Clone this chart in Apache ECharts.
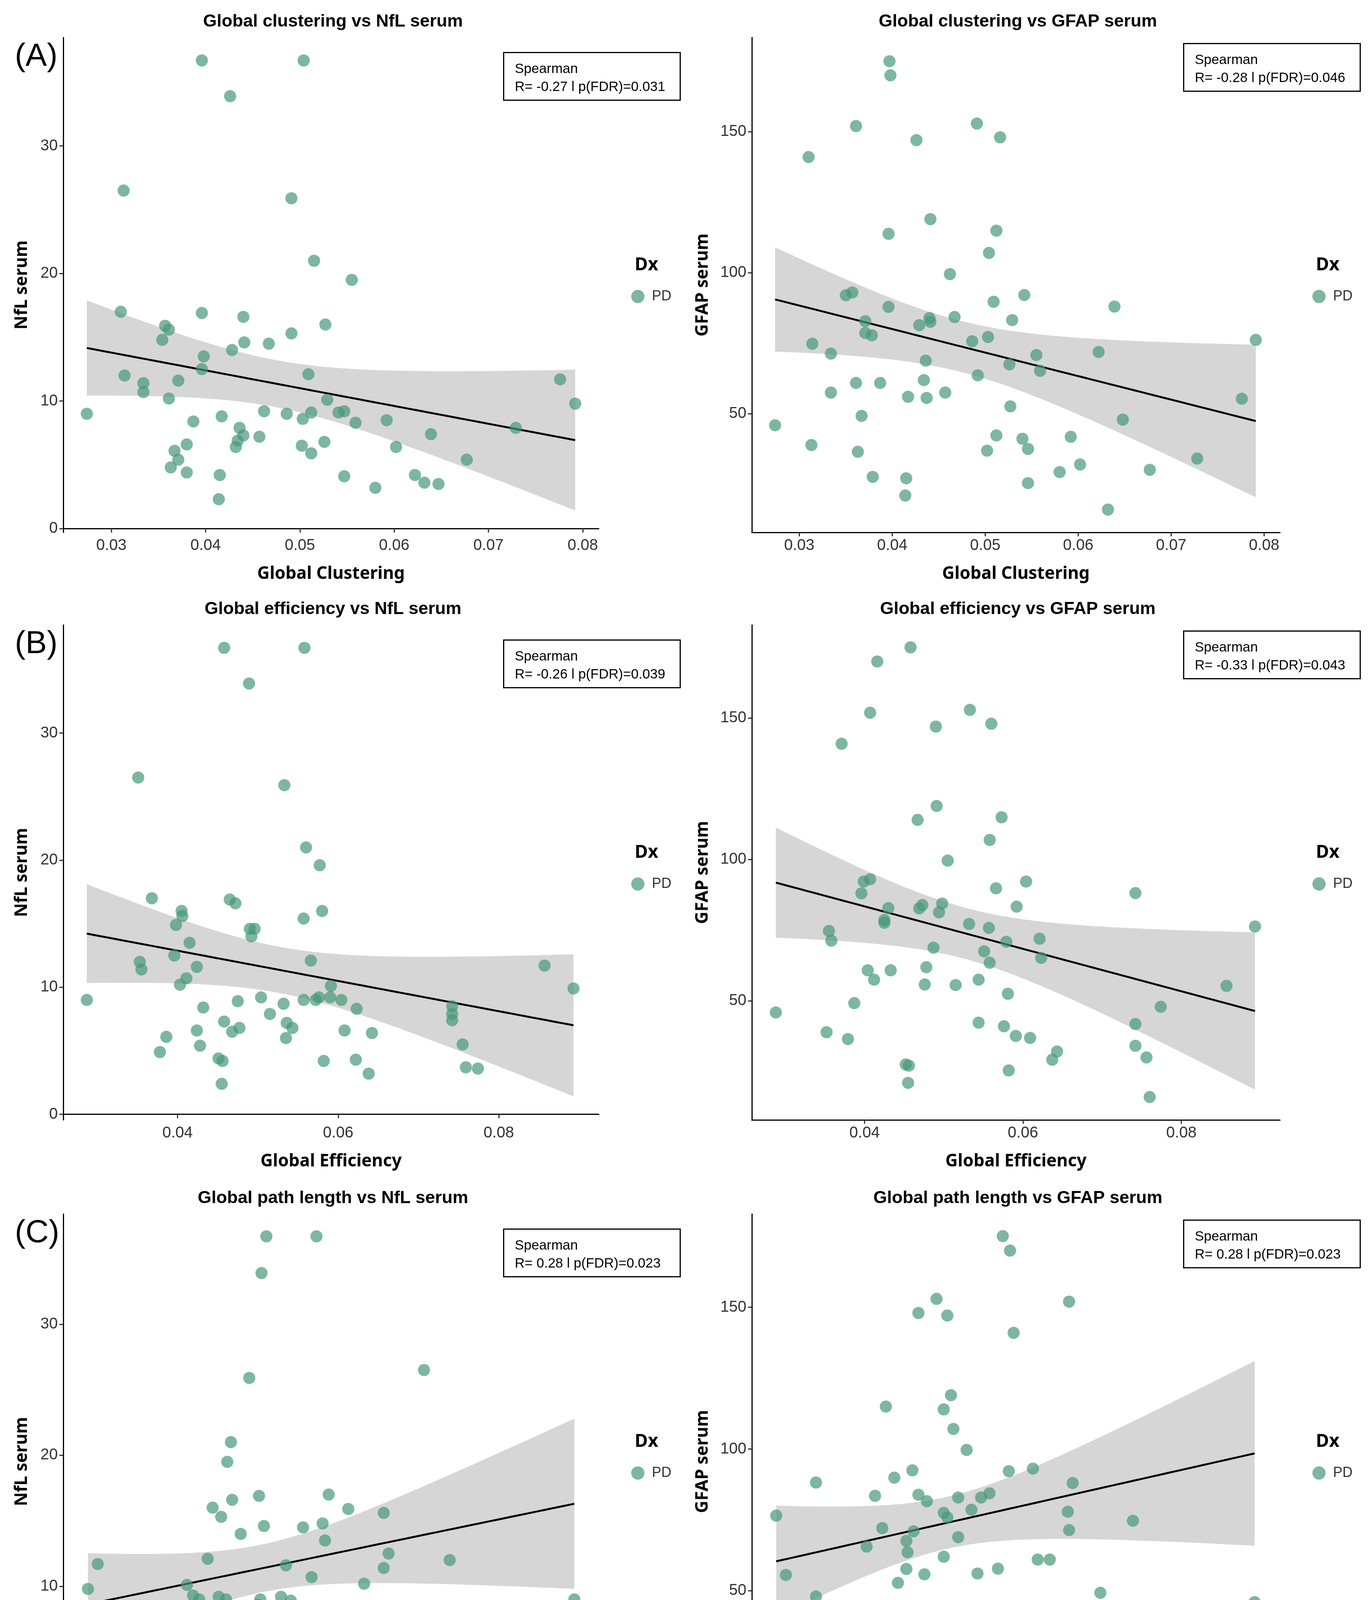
<!DOCTYPE html>
<html><head><meta charset="utf-8">
<script src="https://cdn.jsdelivr.net/npm/echarts@6/dist/echarts.min.js"></script>
<style>html,body{margin:0;padding:0;background:#fff}#c{width:3505px;height:6007px}</style>
</head><body><div id="c"></div>
<script>
// ---- data: [metric, serum] pairs ----
const clusteringNfL = [[0.0396,36.7],[0.0504,36.7],[0.0426,33.9],[0.0313,26.5],[0.0491,25.9],[0.0515,21.0],[0.0555,19.5],[0.0310,17.0],[0.0396,16.9],[0.0440,16.6],[0.0527,16.0],[0.0357,15.9],[0.0361,15.6],[0.0491,15.3],[0.0354,14.8],[0.0441,14.6],[0.0467,14.5],[0.0428,14.0],[0.0398,13.5],[0.0396,12.5],[0.0509,12.1],[0.0314,12.0],[0.0371,11.6],[0.0334,11.4],[0.0334,10.7],[0.0361,10.2],[0.0529,10.1],[0.0776,11.7],[0.0792,9.8],[0.0274,9.0],[0.0462,9.2],[0.0486,9.0],[0.0512,9.1],[0.0541,9.1],[0.0547,9.2],[0.0417,8.8],[0.0503,8.6],[0.0592,8.5],[0.0387,8.4],[0.0559,8.3],[0.0436,7.9],[0.0729,7.9],[0.0440,7.3],[0.0457,7.2],[0.0639,7.4],[0.0434,6.9],[0.0526,6.8],[0.0380,6.6],[0.0502,6.5],[0.0432,6.4],[0.0602,6.4],[0.0367,6.1],[0.0512,5.9],[0.0371,5.4],[0.0677,5.4],[0.0363,4.8],[0.0380,4.4],[0.0415,4.2],[0.0547,4.1],[0.0622,4.2],[0.0632,3.6],[0.0647,3.5],[0.0580,3.2],[0.0414,2.3]];
const clusteringGFAP = [[0.0397,175.0],[0.0398,170.0],[0.0361,152.0],[0.0491,152.9],[0.0426,147.0],[0.0516,148.0],[0.0310,141.0],[0.0441,119.0],[0.0396,113.8],[0.0512,114.9],[0.0504,107.0],[0.0462,99.5],[0.0350,92.0],[0.0357,93.0],[0.0542,92.1],[0.0509,89.7],[0.0396,87.9],[0.0639,88.0],[0.0467,84.3],[0.0440,83.9],[0.0441,82.6],[0.0529,83.2],[0.0371,82.8],[0.0429,81.4],[0.0371,78.6],[0.0378,77.8],[0.0503,77.2],[0.0486,75.7],[0.0791,76.2],[0.0314,74.8],[0.0334,71.3],[0.0622,71.9],[0.0555,70.8],[0.0436,68.8],[0.0526,67.5],[0.0559,65.2],[0.0492,63.6],[0.0361,60.9],[0.0387,60.9],[0.0434,61.9],[0.0334,57.5],[0.0457,57.5],[0.0417,56.0],[0.0437,55.6],[0.0776,55.3],[0.0527,52.6],[0.0367,49.2],[0.0648,47.9],[0.0274,45.9],[0.0512,42.3],[0.0592,41.8],[0.0540,41.1],[0.0313,38.9],[0.0546,37.5],[0.0502,36.9],[0.0363,36.5],[0.0728,34.1],[0.0602,32.0],[0.0677,30.1],[0.0580,29.3],[0.0379,27.6],[0.0415,27.1],[0.0546,25.4],[0.0414,21.0],[0.0632,16.0]];
const efficiencyNfL = [[0.0458,36.7],[0.0558,36.7],[0.0489,33.9],[0.0351,26.5],[0.0533,25.9],[0.0560,21.0],[0.0577,19.6],[0.0368,17.0],[0.0465,16.9],[0.0472,16.6],[0.0580,16.0],[0.0405,16.0],[0.0406,15.6],[0.0557,15.4],[0.0398,14.9],[0.0490,14.6],[0.0496,14.6],[0.0492,14.0],[0.0415,13.5],[0.0396,12.5],[0.0566,12.1],[0.0353,12.0],[0.0424,11.6],[0.0355,11.4],[0.0411,10.7],[0.0403,10.2],[0.0591,10.1],[0.0857,11.7],[0.0893,9.9],[0.0287,9.0],[0.0504,9.2],[0.0557,9.0],[0.0572,9.0],[0.0576,9.2],[0.0590,9.2],[0.0604,9.0],[0.0475,8.9],[0.0532,8.7],[0.0623,8.3],[0.0432,8.4],[0.0515,7.9],[0.0742,8.5],[0.0742,7.9],[0.0742,7.4],[0.0458,7.3],[0.0536,7.2],[0.0543,6.8],[0.0477,6.8],[0.0468,6.5],[0.0424,6.6],[0.0608,6.6],[0.0642,6.4],[0.0386,6.1],[0.0535,6.0],[0.0428,5.4],[0.0755,5.5],[0.0378,4.9],[0.0451,4.4],[0.0456,4.2],[0.0582,4.2],[0.0622,4.3],[0.0759,3.7],[0.0774,3.6],[0.0638,3.2],[0.0455,2.4]];
const efficiencyGFAP = [[0.0458,175.0],[0.0416,170.0],[0.0407,151.9],[0.0533,152.9],[0.0490,147.0],[0.0560,148.0],[0.0371,140.9],[0.0491,118.9],[0.0467,114.0],[0.0573,114.9],[0.0558,106.9],[0.0505,99.6],[0.0399,92.2],[0.0407,93.0],[0.0604,92.2],[0.0566,89.8],[0.0396,88.0],[0.0742,88.1],[0.0498,84.4],[0.0473,83.9],[0.0469,82.7],[0.0592,83.3],[0.0430,82.8],[0.0494,81.3],[0.0425,78.6],[0.0425,77.6],[0.0532,77.2],[0.0557,75.8],[0.0893,76.3],[0.0355,74.7],[0.0358,71.3],[0.0621,72.0],[0.0579,70.9],[0.0487,68.8],[0.0551,67.5],[0.0623,65.2],[0.0558,63.5],[0.0404,60.8],[0.0433,60.8],[0.0478,61.9],[0.0412,57.5],[0.0544,57.5],[0.0476,55.8],[0.0515,55.6],[0.0857,55.3],[0.0581,52.5],[0.0387,49.2],[0.0774,47.9],[0.0288,45.9],[0.0544,42.3],[0.0742,41.8],[0.0576,41.0],[0.0352,38.9],[0.0591,37.6],[0.0609,36.9],[0.0379,36.5],[0.0742,34.1],[0.0643,32.1],[0.0756,30.0],[0.0637,29.2],[0.0452,27.5],[0.0456,27.1],[0.0582,25.4],[0.0455,21.0],[0.0760,16.0]];
const pathLengthNfL = [[30.4,36.7],[34.5,36.7],[30.0,33.9],[43.3,26.5],[29.0,25.9],[27.5,21.0],[27.2,19.5],[29.8,16.9],[35.5,17.0],[27.6,16.6],[26.0,16.0],[37.1,15.9],[40.0,15.6],[26.7,15.3],[35.0,14.8],[30.2,14.6],[33.4,14.5],[28.3,14.0],[35.2,13.5],[40.4,12.5],[25.6,12.1],[45.4,12.0],[16.6,11.7],[32.0,11.6],[40.0,11.4],[34.1,10.7],[38.4,10.2],[23.9,10.1],[15.8,9.8],[24.4,9.3],[24.9,9.0],[26.5,9.2],[27.1,9.0],[29.9,9.0],[29.7,8.6],[31.6,9.2],[32.4,8.9],[20.1,8.5],[23.3,8.3],[37.4,8.4],[19.4,7.9],[19.1,7.4],[28.0,7.9],[26.7,7.2],[30.8,7.3],[26.5,6.8],[30.8,6.8],[22.1,6.5],[22.8,6.4],[29.7,6.5],[40.0,6.6],[42.7,6.1],[27.8,5.9],[20.1,5.5],[32.8,5.4],[41.4,4.8],[24.6,4.2],[24.9,4.2],[28.9,4.2],[32.5,4.4],[55.6,9.0],[18.8,3.7],[19.0,3.6],[22.8,3.2],[33.2,2.3]];
const pathLengthGFAP = [[34.6,175.1],[35.2,170.0],[29.1,153.0],[40.1,152.0],[27.6,148.0],[30.0,147.1],[35.5,141.0],[30.3,119.0],[24.9,115.0],[29.7,114.0],[30.5,107.1],[31.6,99.7],[19.1,88.2],[27.1,92.5],[35.1,92.2],[37.1,93.1],[25.6,89.9],[40.4,88.0],[24.0,83.5],[27.6,83.9],[28.3,81.6],[30.9,82.9],[32.8,82.9],[33.5,84.4],[32.0,78.6],[29.7,77.5],[30.0,75.9],[40.0,77.9],[45.4,74.7],[15.8,76.5],[24.6,72.1],[27.2,71.0],[40.1,71.4],[30.9,68.9],[26.6,67.6],[23.3,65.6],[26.7,63.6],[29.7,62.0],[37.5,61.0],[38.5,61.0],[26.6,57.7],[34.2,57.8],[28.1,55.8],[32.5,56.1],[16.6,55.6],[25.9,52.8],[42.7,49.3],[19.1,48.0],[55.5,46.0],[20.1,41.9],[27.8,42.5],[26.5,41.3],[43.3,39.0],[24.5,37.7],[22.2,37.2],[41.4,36.8],[19.5,34.4],[22.8,32.3],[20.2,30.3],[22.8,29.5],[28.9,27.4],[32.5,27.9],[24.9,25.7],[33.2,21.4],[18.9,16.1]];
const modularityNfL = [[0.5963,36.0],[0.6068,36.4],[0.5942,34.0],[0.6244,26.5],[0.5871,25.9],[0.5946,21.0],[0.6035,19.5],[0.5483,16.6],[0.5814,17.0],[0.5894,16.9],[0.5923,15.9],[0.6041,16.0],[0.5885,15.3],[0.6098,15.6],[0.5964,14.8],[0.5985,14.6],[0.6023,14.5],[0.5803,14.0],[0.5916,13.5],[0.6119,12.5],[0.5878,12.1],[0.6174,12.0],[0.5533,11.7],[0.5910,11.6],[0.5951,11.4],[0.5841,10.7],[0.5910,10.1],[0.6195,10.2],[0.5786,9.8],[0.5904,9.2],[0.5940,9.0],[0.5977,9.0],[0.5999,9.0],[0.6028,9.2],[0.6128,9.1],[0.6147,9.2],[0.5732,8.9],[0.6006,8.7],[0.5848,8.5],[0.5970,8.4],[0.5967,8.3],[0.5877,7.9],[0.5898,7.9],[0.5809,7.4],[0.6047,7.3],[0.6098,7.2],[0.5610,6.8],[0.5863,6.8],[0.5933,6.6],[0.5723,6.5],[0.5904,6.4],[0.5976,6.5],[0.5946,6.0],[0.6237,6.1],[0.5894,5.5],[0.5907,5.4],[0.6137,4.8],[0.5721,3.7],[0.5719,3.5],[0.5904,4.4],[0.5889,4.1],[0.5926,4.2],[0.5968,4.2],[0.5756,3.2],[0.5826,2.3]];
const modularityGFAP = [[0.5915,169.9],[0.5871,152.8],[0.6097,151.9],[0.5945,147.9],[0.5942,146.8],[0.5814,140.8],[0.5985,118.8],[0.6127,115.0],[0.5893,113.9],[0.6082,107.0],[0.6146,99.6],[0.5921,93.1],[0.5963,92.2],[0.5998,92.3],[0.5878,89.8],[0.5809,88.1],[0.6117,87.9],[0.5483,83.8],[0.6023,84.5],[0.5909,83.3],[0.5905,82.6],[0.6045,82.8],[0.5803,81.4],[0.5910,78.5],[0.5932,77.9],[0.6006,77.5],[0.5976,75.9],[0.5786,76.4],[0.6174,74.7],[0.5950,71.5],[0.5967,71.9],[0.6034,71.0],[0.5610,68.8],[0.5863,67.6],[0.5967,65.5],[0.5885,63.7],[0.5976,62.2],[0.5970,61.1],[0.6193,60.9],[0.5842,57.8],[0.6097,57.6],[0.5733,56.0],[0.5877,55.7],[0.5534,55.6],[0.6039,52.7],[0.5718,48.0],[0.6235,49.3],[0.5938,46.2],[0.5945,42.4],[0.5848,41.9],[0.6027,41.2],[0.6242,39.1],[0.5723,37.1],[0.6137,36.9],[0.5904,37.7],[0.5898,34.4],[0.5904,32.2],[0.5893,30.1],[0.5756,29.6],[0.5903,27.7],[0.5926,27.5],[0.5888,25.7],[0.5826,21.4],[0.5721,16.3]];

const titles = ['Global clustering vs NfL serum','Global clustering vs GFAP serum','Global efficiency vs NfL serum','Global efficiency vs GFAP serum','Global path length vs NfL serum','Global path length vs GFAP serum','Global modularity vs NfL serum','Global modularity vs GFAP serum'];
const xNames = ['Global Clustering','Global Efficiency','Global PathLength','Global Modularity'];
const yNames = ['NfL serum','GFAP serum'];
const stats = ['R= -0.27 l p(FDR)=0.031','R= -0.28 l p(FDR)=0.046','R= -0.26 l p(FDR)=0.039','R= -0.33 l p(FDR)=0.043','R= 0.28 l p(FDR)=0.023','R= 0.28 l p(FDR)=0.023','R= 0.31 l p(FDR)=0.036','R= 0.31 l p(FDR)=0.039'];
const rowLabels = ['(A)','(B)','(C)','(D)'];
const xTicks = [[0.03,0.04,0.05,0.06,0.07,0.08],[0.04,0.06,0.08],[20,30,40,50],[0.56,0.58,0.60,0.62]];
const xDecimals = [2,2,0,2];
const yTicksNfL = [0,10,20,30], yTicksNfLC = [10,20,30], yTicksGFAP = [50,100,150];

// ---- layout ----
const datasets = [clusteringNfL,clusteringGFAP,efficiencyNfL,efficiencyGFAP,pathLengthNfL,pathLengthGFAP,modularityNfL,modularityGFAP];
const rowTop = [96,1600,3108,4611], plotH = 1267;
const colLeft = [162,1925], colW = [1371,1352];
const xRanges = [[0.0249,0.0817],[0.02577,0.09245],[13.78,57.6],[0.5446,0.6282]];
const yRangesNfL = [[-0.3,38.5],[-0.44,38.5],[0.64,38.4],[-0.06,38.6]];
const yRangesGFAP = [[7.9,183.4],[7.9,182.9],[8.3,182.9],[8.4,183]];
const PT = 'rgba(70,152,118,0.88)';

function fit(d){
  const n=d.length; let mx=0,my=0; d.forEach(p=>{mx+=p[0];my+=p[1];}); mx/=n; my/=n;
  let sxx=0,sxy=0; d.forEach(p=>{sxx+=(p[0]-mx)**2; sxy+=(p[0]-mx)*(p[1]-my);});
  const b=sxy/sxx, a=my-b*mx; let sse=0; d.forEach(p=>{sse+=(p[1]-a-b*p[0])**2;});
  const s=Math.sqrt(sse/(n-2)); const xs=d.map(p=>p[0]); const lo=Math.min(...xs), hi=Math.max(...xs);
  const line=[],band=[]; for(let i=0;i<=80;i++){const x=lo+(hi-lo)*i/80; const y=a+b*x; const se=s*Math.sqrt(1/n+(x-mx)**2/sxx); line.push([x,y]); band.push([x,y-2.0*se,y+2.0*se]);}
  return {line,band};
}

const grid=[],xAxis=[],yAxis=[],series=[],title=[],legend=[],graphic=[];
const axisCommon = {axisLine:{lineStyle:{color:'#000',width:3}},axisTick:{length:10,lineStyle:{color:'#333',width:3}},splitLine:{show:false},
  axisLabel:{color:'#333',fontSize:40,fontFamily:'Liberation Sans Narrow, Liberation Sans',margin:14},
  nameTextStyle:{color:'#000',fontSize:44,fontWeight:'bold',fontFamily:'Noto Sans'}};
for(let i=0;i<8;i++){
  const r=Math.floor(i/2), c=i%2, top=rowTop[r], left=colLeft[c], w=colW[c];
  grid.push({left:left,top:top,width:w,height:plotH});
  const xr=xRanges[r];
  xAxis.push(Object.assign({},axisCommon,{type:'value',gridIndex:i,min:xr[0],max:xr[1],name:xNames[r],nameLocation:'middle',nameGap:84,
    axisLabel:Object.assign({},axisCommon.axisLabel,{customValues:xTicks[r],formatter:v=>v.toFixed(xDecimals[r])}),
    axisTick:Object.assign({},axisCommon.axisTick,{customValues:xTicks[r]})}));
  const yr = c===0?yRangesNfL[r]:yRangesGFAP[r];
  const yt = c===0?(r===2?yTicksNfLC:yTicksNfL):yTicksGFAP;
  yAxis.push(Object.assign({},axisCommon,{type:'value',gridIndex:i,min:yr[0],max:yr[1],name:yNames[c],nameLocation:'middle',nameGap:c===0?84:104,
    axisLabel:Object.assign({},axisCommon.axisLabel,{customValues:yt,formatter:v=>String(Math.round(v))}),
    axisTick:Object.assign({},axisCommon.axisTick,{customValues:yt})}));
  const f=fit(datasets[i]);
  series.push({type:'custom',xAxisIndex:i,yAxisIndex:i,silent:true,z:1,data:[0],
    renderItem:(params,api)=>{const pts=f.band.map(b=>api.coord([b[0],b[2]])).concat(f.band.slice().reverse().map(b=>api.coord([b[0],b[1]])));
      return {type:'polygon',shape:{points:pts},style:{fill:'rgba(200,200,200,0.75)'}};}});
  series.push({type:'line',xAxisIndex:i,yAxisIndex:i,data:f.line,showSymbol:false,silent:true,z:2,lineStyle:{color:'#000',width:5}});
  series.push({type:'scatter',name:'PD',xAxisIndex:i,yAxisIndex:i,data:datasets[i],symbolSize:31,z:3,itemStyle:{color:PT}});
  title.push({text:titles[i],left:left+w/2,top:top-68,textAlign:'center',textStyle:{fontSize:45,fontWeight:'bold',color:'#000',fontFamily:'Liberation Sans'}});
  legend.push({data:['PD'],left:left+w+78,top:top+640,icon:'circle',itemWidth:34,itemHeight:34,itemGap:10,textStyle:{fontSize:36,color:'#333',fontFamily:'Liberation Sans Narrow, Liberation Sans',padding:[0,0,0,14]}});
  graphic.push({type:'text',left:left+w+92,top:top+560,style:{text:'Dx',fontSize:46,fontWeight:'bold',fill:'#000',fontFamily:'Noto Sans'}});
  const bx=left+w-(c===0?245:248);
  graphic.push({type:'rect',left:bx,top:top+ (c===0?37:14),shape:{width:452,height:122},style:{fill:'#fff',stroke:'#000',lineWidth:3},z:10});
  graphic.push({type:'text',left:bx+30,top:top+(c===0?58:35),z:11,style:{text:'Spearman\n'+stats[i],fontSize:35,lineHeight:46,fill:'#000',fontFamily:'Liberation Sans Narrow, Liberation Sans'}});
  if(c===0) graphic.push({type:'text',left:38,top:top+8,style:{text:rowLabels[r],fontSize:82,fill:'#000',fontFamily:'Liberation Sans'}});
}
const chart=echarts.init(document.getElementById('c'));
chart.setOption({backgroundColor:'#fff',animation:false,grid,xAxis,yAxis,series,title,legend,graphic});
</script></body></html>
